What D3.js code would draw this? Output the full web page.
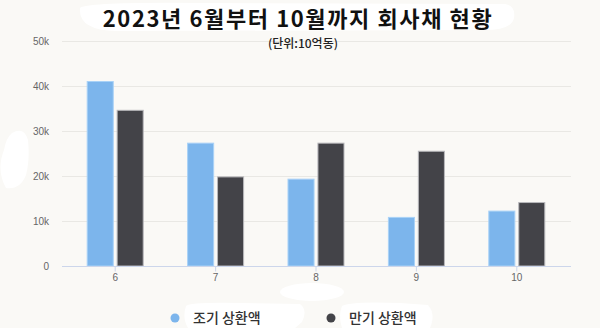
<!DOCTYPE html>
<html>
<head>
<meta charset="utf-8">
<script src="https://cdn.jsdelivr.net/npm/d3@7"></script>
<style>
  body { margin: 0; background: #faf9f6; }
  svg { display: block; font-family: "Noto Sans CJK KR", "Noto Sans", sans-serif; }
</style>
</head>
<body>
<div id="chart"></div>
<script>
var months = ["6", "7", "8", "9", "10"];
var earlyRepay = [41000, 27300, 19300, 10800, 12200];
var maturityRepay = [34600, 19800, 27300, 25500, 14100];
var seriesNames = ["조기 상환액", "만기 상환액"];
var seriesColors = ["#7cb5ec", "#434348"];
var yTicks = [0, 10000, 20000, 30000, 40000, 50000];

var width = 600, height = 328;
var margin = {top: 41, right: 29, bottom: 62, left: 62};

var svg = d3.select("#chart").append("svg")
    .attr("width", width)
    .attr("height", height);

svg.append("rect")
    .attr("width", width).attr("height", height)
    .attr("fill", "#faf9f6");

// white patches seen in the picture
svg.append("path")
    .attr("d", "M80,8 Q86,2 200,3 L505,4 Q516,6 514,18 Q512,30 484,30 L116,31 Q78,30 80,8 Z")
    .attr("fill", "#fff");
svg.append("path")
    .attr("d", "M12,133 Q24,126 28,140 Q30,160 26,175 Q20,190 6,188 Q-4,170 4,150 Q6,138 12,133 Z")
    .attr("fill", "#fff");
svg.append("ellipse")
    .attr("cx", 312).attr("cy", 292).attr("rx", 32).attr("ry", 9)
    .attr("fill", "#fff");

var x0 = d3.scaleBand()
    .domain(months)
    .range([margin.left + 3, width - margin.right - 4])
    .paddingInner(0)
    .paddingOuter(0);

var x1 = d3.scaleBand()
    .domain(d3.range(seriesNames.length))
    .range([x0.bandwidth() / 2 - 28, x0.bandwidth() / 2 + 28])
    .paddingInner(0.13);

var y = d3.scaleLinear()
    .domain([0, 50000])
    .range([height - margin.bottom, margin.top]);

// grid
svg.append("g")
    .selectAll("line")
    .data(yTicks.slice(1))
    .enter().append("line")
      .attr("x1", margin.left)
      .attr("x2", width - margin.right)
      .attr("y1", function(d) { return Math.round(y(d)) + 0.5; })
      .attr("y2", function(d) { return Math.round(y(d)) + 0.5; })
      .attr("stroke", "#e9e8e4")
      .attr("stroke-width", 1);

// y labels
svg.append("g")
    .selectAll("text")
    .data(yTicks)
    .enter().append("text")
      .attr("x", 49)
      .attr("y", function(d) { return y(d) + 3.5; })
      .attr("text-anchor", "end")
      .attr("font-family", "Liberation Sans, Arial, sans-serif")
      .attr("font-size", 10)
      .attr("fill", "#666")
      .text(function(d) { return d === 0 ? "0" : (d / 1000) + "k"; });

// bars
var data = months.map(function(m, i) {
  return {month: m, values: [earlyRepay[i], maturityRepay[i]]};
});

var group = svg.append("g")
    .selectAll("g")
    .data(data)
    .enter().append("g")
      .attr("transform", function(d) { return "translate(" + x0(d.month) + ",0)"; });

group.selectAll("rect")
    .data(function(d) { return d.values; })
    .enter().append("rect")
      .attr("x", function(d, i) { return x1(i); })
      .attr("y", function(d) { return y(d); })
      .attr("width", x1.bandwidth())
      .attr("height", function(d) { return y(0) - y(d); })
      .attr("fill", function(d, i) { return seriesColors[i]; })
      .attr("stroke", function(d, i) { return i === 0 ? "#a9d2f7" : "#b8b8bc"; })
      .attr("stroke-width", 1);

// x axis
var xAxis = svg.append("g")
    .attr("transform", "translate(0," + (Math.round(y(0)) + 0.5) + ")")
    .call(d3.axisBottom(x0).tickSize(5).tickSizeOuter(0));
xAxis.select(".domain")
    .attr("d", "M" + margin.left + ",0H" + (width - margin.right))
    .attr("stroke", "#ccd6eb");
xAxis.selectAll(".tick line").attr("stroke", "#ccd6eb");
xAxis.selectAll(".tick text")
    .attr("dy", "0.9em")
    .attr("y", 5)
    .attr("font-family", "Liberation Sans, Arial, sans-serif")
    .attr("font-size", 10)
    .attr("fill", "#666");

// title
svg.append("text")
    .attr("x", 298)
    .attr("y", 27)
    .attr("text-anchor", "middle")
    .attr("font-size", 22)
    .attr("font-weight", "bold")
    .attr("letter-spacing", 1.6)
    .attr("fill", "#111")
    .text("2023년 6월부터 10월까지 회사채 현황");

svg.append("text")
    .attr("x", 303)
    .attr("y", 48)
    .attr("text-anchor", "middle")
    .attr("font-size", 12)
    .attr("font-weight", 500)
    .attr("fill", "#222")
    .text("(단위:10억동)");

// legend
var legendX = [175, 331];
svg.append("path")
    .attr("d", "M186,306 Q190,302 240,303 L300,304 Q308,310 302,322 L295,328 L188,328 Q182,318 186,306 Z")
    .attr("fill", "#fff");
svg.append("path")
    .attr("d", "M342,306 Q350,301 400,303 L428,305 Q436,314 430,328 L342,328 Q338,316 342,306 Z")
    .attr("fill", "#fff");

var legend = svg.append("g")
    .selectAll("g")
    .data(seriesNames)
    .enter().append("g")
      .attr("transform", function(d, i) { return "translate(" + legendX[i] + ",318)"; });

legend.append("circle")
    .attr("r", 4.5)
    .attr("fill", function(d, i) { return seriesColors[i]; });

legend.append("text")
    .attr("x", 18)
    .attr("y", 5)
    .attr("font-size", 14)
    .attr("font-weight", 500)
    .attr("fill", "#333")
    .text(function(d) { return d; });
</script>
</body>
</html>
